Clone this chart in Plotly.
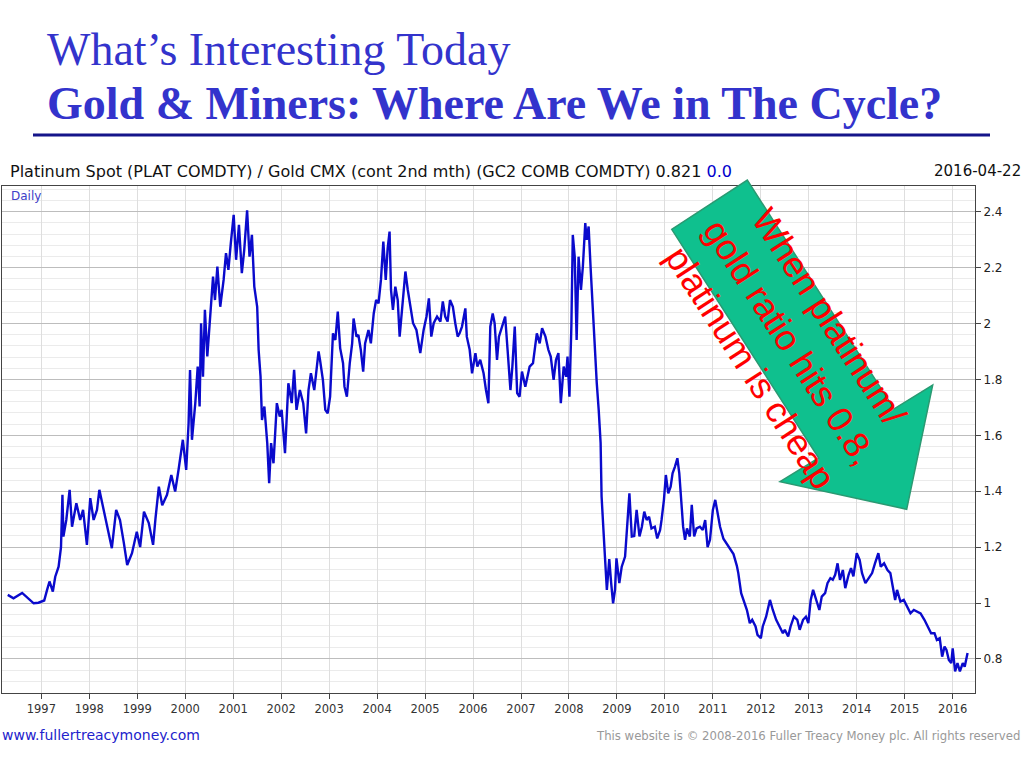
import plotly.graph_objects as go

# ---- data (decimal year, platinum/gold ratio) ----
years = [
    1996.30, 1996.42, 1996.60, 1996.70, 1996.84, 1996.94, 1997.06, 1997.12, 1997.17, 1997.24,
    1997.29, 1997.36, 1997.41, 1997.44, 1997.46, 1997.52, 1997.59, 1997.64, 1997.73, 1997.81,
    1997.87, 1997.95, 1998.02, 1998.09, 1998.16, 1998.21, 1998.30, 1998.37, 1998.47, 1998.56,
    1998.64, 1998.72, 1998.79, 1998.89, 1998.99, 1999.06, 1999.14, 1999.24, 1999.33, 1999.38,
    1999.45, 1999.52, 1999.62, 1999.71, 1999.79, 1999.86, 1999.95, 2000.02, 2000.07, 2000.10,
    2000.14, 2000.21, 2000.26, 2000.30, 2000.33, 2000.37, 2000.41, 2000.46, 2000.52, 2000.58,
    2000.62, 2000.67, 2000.73, 2000.80, 2000.85, 2000.90, 2000.95, 2001.01, 2001.06, 2001.12,
    2001.18, 2001.23, 2001.29, 2001.34, 2001.39, 2001.44, 2001.50, 2001.53, 2001.57, 2001.60,
    2001.65, 2001.71, 2001.75, 2001.79, 2001.84, 2001.91, 2001.97, 2002.01, 2002.08, 2002.15,
    2002.22, 2002.27, 2002.32, 2002.39, 2002.46, 2002.52, 2002.57, 2002.62, 2002.69, 2002.78,
    2002.81, 2002.87, 2002.92, 2002.97, 2003.02, 2003.08, 2003.13, 2003.18, 2003.23, 2003.29,
    2003.32, 2003.37, 2003.43, 2003.48, 2003.51, 2003.57, 2003.61, 2003.66, 2003.71, 2003.75,
    2003.82, 2003.87, 2003.93, 2003.98, 2004.03, 2004.08, 2004.13, 2004.18, 2004.22, 2004.26,
    2004.29, 2004.33, 2004.38, 2004.43, 2004.47, 2004.52, 2004.59, 2004.64, 2004.69, 2004.75,
    2004.82, 2004.90, 2004.97, 2005.03, 2005.08, 2005.13, 2005.18, 2005.25, 2005.32, 2005.37,
    2005.42, 2005.47, 2005.52, 2005.58, 2005.63, 2005.68, 2005.72, 2005.77, 2005.84, 2005.87,
    2005.93, 2005.98, 2006.05, 2006.09, 2006.15, 2006.22, 2006.27, 2006.32, 2006.36, 2006.41,
    2006.45, 2006.50, 2006.54, 2006.60, 2006.67, 2006.72, 2006.78, 2006.82, 2006.87, 2006.92,
    2006.97, 2007.02, 2007.09, 2007.18, 2007.25, 2007.33, 2007.39, 2007.44, 2007.51, 2007.57,
    2007.62, 2007.68, 2007.73, 2007.78, 2007.83, 2007.89, 2007.94, 2007.97, 2008.01, 2008.05,
    2008.08, 2008.12, 2008.16, 2008.20, 2008.25, 2008.29, 2008.34, 2008.37, 2008.41, 2008.45,
    2008.49, 2008.53, 2008.58, 2008.62, 2008.66, 2008.68, 2008.72, 2008.75, 2008.79, 2008.84,
    2008.88, 2008.92, 2008.96, 2008.99, 2009.05, 2009.10, 2009.17, 2009.20, 2009.26, 2009.31,
    2009.36, 2009.41, 2009.47, 2009.52, 2009.57, 2009.62, 2009.67, 2009.72, 2009.79, 2009.84,
    2009.90, 2009.93, 2009.98, 2010.02, 2010.07, 2010.12, 2010.16, 2010.21, 2010.26, 2010.30,
    2010.35, 2010.38, 2010.42, 2010.46, 2010.52, 2010.56, 2010.61, 2010.66, 2010.73, 2010.79,
    2010.84, 2010.89, 2010.94, 2011.00, 2011.05, 2011.10, 2011.15, 2011.22, 2011.29, 2011.36,
    2011.43, 2011.50, 2011.53, 2011.59, 2011.64, 2011.71, 2011.77, 2011.82, 2011.89, 2011.93,
    2012.00, 2012.04, 2012.11, 2012.19, 2012.25, 2012.32, 2012.39, 2012.46, 2012.50, 2012.57,
    2012.62, 2012.69, 2012.76, 2012.81, 2012.88, 2012.94, 2012.99, 2013.04, 2013.09, 2013.15,
    2013.22, 2013.27, 2013.34, 2013.39, 2013.45, 2013.50, 2013.55, 2013.60, 2013.65, 2013.71,
    2013.76, 2013.83, 2013.88, 2013.93, 2014.00, 2014.06, 2014.11, 2014.18, 2014.25, 2014.32,
    2014.38, 2014.45, 2014.50, 2014.57, 2014.64, 2014.70, 2014.75, 2014.80, 2014.84, 2014.91,
    2014.98, 2015.05, 2015.12, 2015.19, 2015.26, 2015.33, 2015.41, 2015.48, 2015.55, 2015.62,
    2015.67, 2015.73, 2015.78, 2015.83, 2015.87, 2015.92, 2015.97, 2016.00, 2016.05, 2016.10,
    2016.15, 2016.21, 2016.25, 2016.31,
]
ratio = [
    1.029, 1.017, 1.036, 1.020, 0.999, 1.001, 1.009, 1.047, 1.077, 1.041,
    1.094, 1.130, 1.200, 1.387, 1.238, 1.297, 1.405, 1.273, 1.357, 1.297,
    1.333, 1.208, 1.375, 1.297, 1.333, 1.405, 1.333, 1.273, 1.196, 1.333,
    1.297, 1.215, 1.136, 1.178, 1.255, 1.200, 1.327, 1.286, 1.208, 1.303,
    1.416, 1.350, 1.387, 1.458, 1.399, 1.476, 1.584, 1.476, 1.643, 1.834,
    1.584, 1.715, 1.846, 1.703, 2.001, 1.810, 2.049, 1.882, 2.013, 2.168,
    2.084, 2.204, 2.060, 2.156, 2.252, 2.192, 2.287, 2.389, 2.228, 2.353,
    2.180, 2.263, 2.405, 2.239, 2.317, 2.132, 2.060, 1.906, 1.810, 1.655,
    1.703, 1.572, 1.429, 1.572, 1.500, 1.715, 1.667, 1.691, 1.536, 1.786,
    1.715, 1.834, 1.691, 1.762, 1.715, 1.607, 1.762, 1.822, 1.762, 1.900,
    1.870, 1.798, 1.691, 1.679, 1.738, 1.965, 1.941, 2.043, 1.912, 1.858,
    1.774, 1.738, 1.858, 1.929, 2.018, 1.953, 1.959, 1.906, 1.828, 1.929,
    1.977, 1.929, 2.036, 2.084, 2.072, 2.156, 2.293, 2.156, 2.269, 2.329,
    2.120, 2.049, 2.132, 2.084, 1.953, 2.049, 2.186, 2.120, 2.072, 2.001,
    1.977, 1.894, 1.977, 2.025, 2.090, 1.953, 2.001, 2.025, 2.007, 2.079,
    2.025, 2.007, 2.084, 2.060, 2.001, 1.953, 1.965, 1.989, 2.054, 1.953,
    1.906, 1.822, 1.894, 1.846, 1.870, 1.822, 1.762, 1.715, 1.989, 2.036,
    2.001, 1.870, 1.953, 1.989, 2.025, 1.906, 1.762, 1.846, 1.989, 1.751,
    1.738, 1.828, 1.774, 1.846, 1.858, 1.965, 1.929, 1.983, 1.953, 1.906,
    1.882, 1.798, 1.870, 1.894, 1.715, 1.846, 1.810, 1.882, 1.738, 1.989,
    2.317, 2.239, 1.941, 2.239, 2.120, 2.204, 2.359, 2.299, 2.347, 2.204,
    2.072, 1.906, 1.786, 1.691, 1.572, 1.381, 1.226, 1.166, 1.047, 1.157,
    1.071, 0.999, 1.047, 1.160, 1.071, 1.130, 1.166, 1.232, 1.392, 1.238,
    1.240, 1.333, 1.238, 1.273, 1.327, 1.297, 1.309, 1.267, 1.273, 1.231,
    1.261, 1.297, 1.369, 1.458, 1.392, 1.416, 1.464, 1.488, 1.518, 1.464,
    1.345, 1.273, 1.226, 1.267, 1.238, 1.351, 1.238, 1.267, 1.273, 1.261,
    1.297, 1.200, 1.226, 1.333, 1.369, 1.321, 1.273, 1.230, 1.210, 1.193,
    1.175, 1.133, 1.107, 1.035, 1.011, 0.975, 0.928, 0.940, 0.916, 0.886,
    0.874, 0.916, 0.951, 1.011, 0.975, 0.940, 0.916, 0.892, 0.904, 0.880,
    0.916, 0.951, 0.940, 0.904, 0.940, 0.951, 0.928, 1.011, 1.047, 1.011,
    0.975, 1.023, 1.035, 1.071, 1.089, 1.083, 1.101, 1.142, 1.083, 1.118,
    1.053, 1.101, 1.125, 1.095, 1.178, 1.154, 1.107, 1.071, 1.089, 1.107,
    1.142, 1.178, 1.130, 1.142, 1.118, 1.107, 1.059, 1.011, 1.047, 1.005,
    1.011, 0.987, 0.963, 0.975, 0.969, 0.963, 0.940, 0.916, 0.892, 0.892,
    0.868, 0.874, 0.808, 0.844, 0.832, 0.796, 0.785, 0.838, 0.755, 0.785,
    0.755, 0.785, 0.772, 0.821,
]
x_tick_years = list(range(1997, 2017))
x_tick_labels = [str(y) for y in x_tick_years]
y_tick_values = [0.8, 1.0, 1.2, 1.4, 1.6, 1.8, 2.0, 2.2, 2.4]
y_tick_labels = ["0.8", "1", "1.2", "1.4", "1.6", "1.8", "2", "2.2", "2.4"]

title_line1 = "What’s Interesting Today"
title_line2 = "Gold & Miners: Where Are We in The Cycle?"
header_text = "Platinum Spot (PLAT COMDTY) / Gold CMX (cont 2nd mth) (GC2 COMB COMDTY) 0.821 "
header_change = "0.0"
header_date = "2016-04-22"
arrow_text = "When platinum/<br>gold ratio hits 0.8,<br>platinum is cheap"

# ---- layout geometry (pixels) ----
W, H = 1024, 768
PL, PR, PT, PB = 2, 975, 186, 693


def px(x):
    return (x - PL) / (PR - PL)


def py(y):
    return (PB - y) / (PB - PT)


fig = go.Figure()
fig.add_trace(go.Scatter(
    x=years, y=ratio, mode="lines",
    line=dict(color="#0a0acc", width=2.4),
    showlegend=False, hoverinfo="skip",
))

sans = "DejaVu Sans"
fig.update_layout(
    width=W, height=H,
    margin=dict(l=PL, r=W - PR, t=PT, b=H - PB, pad=0),
    paper_bgcolor="white", plot_bgcolor="white",
    xaxis=dict(
        range=[1996.18, 2016.465], tickmode="array",
        tickvals=x_tick_years, ticktext=x_tick_labels,
        showgrid=True, gridcolor="#dedede", gridwidth=1,
        showline=True, linecolor="#444", linewidth=1, mirror=True,
        ticks="outside", ticklen=5, tickcolor="#444",
        tickfont=dict(family=sans, size=11.5, color="#333"),
        zeroline=False,
    ),
    yaxis=dict(
        range=[0.678, 2.492], side="right", tickmode="array",
        tickvals=y_tick_values, ticktext=y_tick_labels,
        showgrid=True, gridcolor="#bdbdbd", gridwidth=1,
        minor=dict(tick0=0, dtick=0.04, showgrid=True, gridcolor="#ebebeb", gridwidth=1, ticks=""),
        showline=True, linecolor="#444", linewidth=1, mirror=True,
        ticks="outside", ticklen=5, tickcolor="#444",
        tickfont=dict(family=sans, size=12, color="#222"),
        zeroline=False,
    ),
)

shapes = []
# horizontal rule under the title
shapes.append(dict(type="line", xref="paper", yref="paper",
                   x0=px(33), x1=px(990), y0=py(135), y1=py(135),
                   line=dict(color="#15158a", width=3)))
# green arrow
arrow_pts = [(671.7, 229.3), (747.3, 180.0), (894.1, 408.8), (932.7, 385.0),
             (906.7, 509.3), (780.0, 481.7), (818.7, 458.0)]
path = "M " + " L ".join(f"{px(a):.5f},{py(b):.5f}" for a, b in arrow_pts) + " Z"
shapes.append(dict(type="path", xref="paper", yref="paper", path=path,
                   fillcolor="#0fc08e", line=dict(color="#2a9a72", width=1.5),
                   layer="above"))
fig.update_layout(shapes=shapes)

serif = "Liberation Serif"
ann = [
    dict(x=px(45), y=py(50), text=title_line1, xanchor="left", yanchor="middle",
         font=dict(family=serif, size=46, color="#3333cc")),
    dict(x=px(45), y=py(103), text="<b>" + title_line2 + "</b>", xanchor="left", yanchor="middle",
         font=dict(family=serif, size=46, color="#3333cc")),
    dict(x=px(8), y=py(171),
         text=header_text + "<span style='color:#0000cc'>" + header_change + "</span>",
         xanchor="left", yanchor="middle", font=dict(family=sans, size=16, color="#111")),
    dict(x=px(1023), y=py(171), text=header_date, xanchor="right", yanchor="middle",
         font=dict(family=sans, size=15, color="#111")),
    dict(x=px(9), y=py(196), text="Daily", xanchor="left", yanchor="middle",
         font=dict(family=sans, size=12, color="#4040c8")),
    dict(x=px(0), y=py(735), text="www.fullertreacymoney.com", xanchor="left", yanchor="middle",
         font=dict(family=sans, size=14, color="#2222cc")),
    dict(x=px(1022), y=py(736),
         text="This website is © 2008-2016 Fuller Treacy Money plc. All rights reserved",
         xanchor="right", yanchor="middle", font=dict(family=sans, size=11.7, color="#999")),
    dict(x=px(790), y=py(342), text=arrow_text, textangle=57, xanchor="center", yanchor="middle",
         align="center", font=dict(family="Liberation Sans", size=36, color="#ff0000")),
]
for a in ann:
    a.update(xref="paper", yref="paper", showarrow=False)
fig.update_layout(annotations=ann)

fig.write_html("out.html", config={"displayModeBar": False},
               post_script="document.body.style.margin='0px';")
